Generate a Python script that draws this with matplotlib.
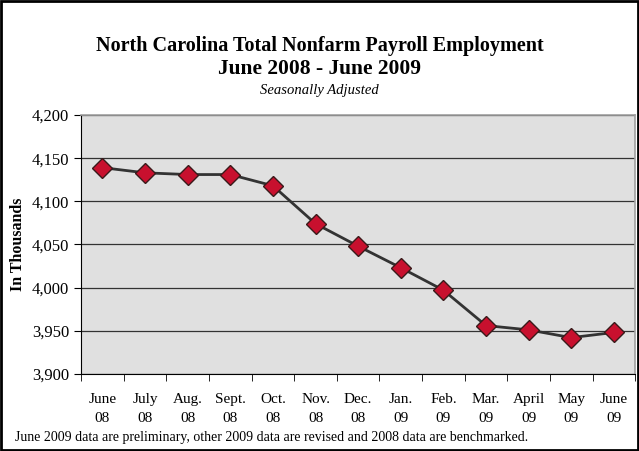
"""
North Carolina total nonfarm payroll employment, June 2008 - June 2009.
"""

import matplotlib
matplotlib.use('Agg')
import matplotlib.pyplot as plt
from matplotlib.patches import Rectangle
import numpy as np

# Data (thousands, seasonally adjusted)
months = ['June\n08', 'July\n08', 'Aug.\n08', 'Sept.\n08', 'Oct.\n08', 'Nov.\n08',
          'Dec.\n08', 'Jan.\n09', 'Feb.\n09', 'Mar.\n09', 'April\n09', 'May\n09',
          'June\n09']
employment = [4139, 4133, 4131, 4131, 4118, 4074, 4048, 4023, 3997, 3956, 3951, 3942, 3948]
y_ticks = [3900, 3950, 4000, 4050, 4100, 4150, 4200]

plt.rcParams['font.family'] = ['Liberation Serif', 'DejaVu Serif']

fig = plt.figure(figsize=(6.39, 4.51), dpi=100)
fig.patches.append(Rectangle((0.002, 0.003), 0.996, 0.994, transform=fig.transFigure,
                             fill=False, edgecolor='black', linewidth=2))

ax = fig.add_axes([0.127, 0.171, 0.867, 0.574])
ax.set_facecolor('#e0e0e0')

x = np.arange(len(months))
ax.plot(x, employment, color='#333333', linewidth=2, marker='D', markersize=10,
        markerfacecolor='#c8102e', markeredgecolor='#3a1a1a', markeredgewidth=1, zorder=3)

ax.set_xlim(-0.5, len(months) - 0.5)
ax.set_ylim(3900, 4200)
ax.set_yticks(y_ticks)
ax.set_yticklabels([f'{v:,}' for v in y_ticks], fontsize=12)
ax.yaxis.grid(True, color='#333333', linewidth=0.9)
ax.set_axisbelow(True)

# category labels centred, tick marks between categories
ax.set_xticks(x)
ax.set_xticklabels(months, fontsize=11, linespacing=1.6)
ax.tick_params(axis='x', length=0, pad=14)
ax.set_xticks(np.arange(len(months) + 1) - 0.5, minor=True)
ax.tick_params(axis='x', which='minor', length=5, direction='out', color='black')
ax.tick_params(axis='y', length=5, direction='out', color='black')

for side in ['top', 'right']:
    ax.spines[side].set_color('#a0a0a0')
    ax.spines[side].set_linewidth(1.2)
ax.spines['left'].set_color('black')
ax.spines['bottom'].set_color('black')

ax.set_ylabel('In Thousands', fontsize=11.5, fontweight='bold', labelpad=4)

fig.text(0.5, 0.897, 'North Carolina Total Nonfarm Payroll Employment', ha='center',
         va='center', fontsize=14.5, fontweight='bold')
fig.text(0.5, 0.848, 'June 2008 - June 2009', ha='center', va='center',
         fontsize=15.5, fontweight='bold')
fig.text(0.5, 0.8, 'Seasonally Adjusted', ha='center', va='center',
         fontsize=10.5, style='italic')
fig.text(0.023, 0.031, 'June 2009 data are preliminary, other 2009 data are revised '
         'and 2008 data are benchmarked.', ha='left', va='center', fontsize=10)

plt.savefig('out.png', dpi=100)
plt.close()
